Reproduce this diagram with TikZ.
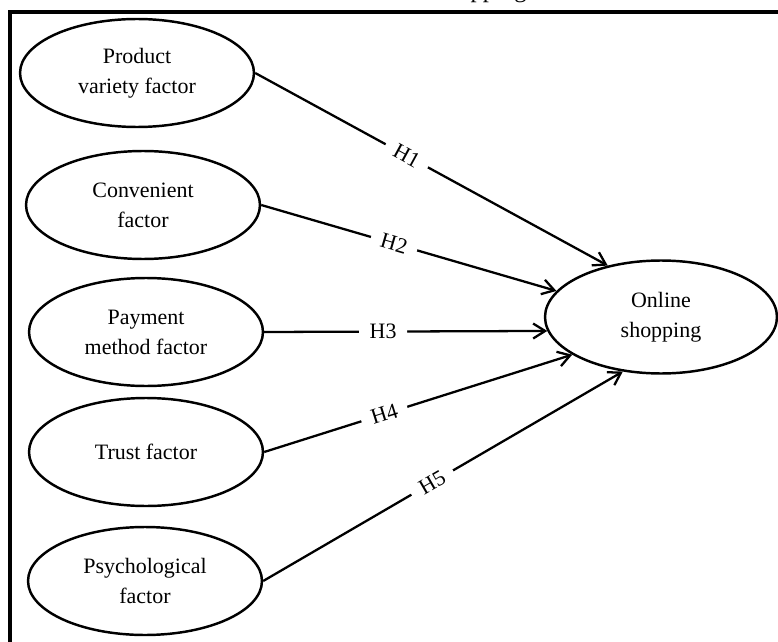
\documentclass[tikz,border=0pt]{standalone}
\usepackage{fontspec}
\setmainfont{Liberation Serif}
\usepackage{tikz}
\usetikzlibrary{arrows.meta,shapes.geometric}

\begin{document}
\begin{tikzpicture}[x=0.02cm,y=-0.02cm,>={Straight Barb[length=2.4mm,width=3mm]},
   font=\fontsize{12.5}{17}\selectfont,
   ov/.style={draw,ellipse,line width=1.4pt,inner sep=0pt,align=center,
     minimum width=4.68cm,minimum height=2.16cm},
   hyp/.style={sloped,fill=white,inner xsep=6pt,inner ysep=1pt}]
  \useasboundingbox (0,0) rectangle (778,642);
  \begin{scope}
    \clip (0,0) rectangle (778,642);
    \node[font=\fontsize{14}{16}\selectfont,anchor=base east,inner sep=0pt] (ttl) at (527,-2) {shopping};
  \end{scope}
  \draw[line width=2.2pt] (778,12) -- (10,12) -- (10,642);
  \node[ov] (pv) at (137,73)  {Product\\variety factor};
  \node[ov] (cv) at (143,205) {Convenient\\factor};
  \node[ov] (pm) at (146,332) {Payment\\method factor};
  \node[ov] (tr) at (146,452) {Trust factor};
  \node[ov] (ps) at (145,581) {Psychological\\factor};
  \node[ov,minimum width=4.64cm,minimum height=2.26cm] (os) at (661,317) {Online\\shopping};
  \draw[->,line width=1.3pt] (pv.east) -- node[hyp,pos=.43] {H1} (os.136);
  \draw[->,line width=1.3pt] (cv.east) -- node[hyp,pos=.45] {H2} (os.166);
  \draw[->,line width=1.3pt] (pm.east) -- node[hyp,pos=.42] {H3} (os.187);
  \draw[->,line width=1.3pt] (tr.east) -- node[hyp,pos=.39] {H4} (os.203);
  \draw[->,line width=1.3pt] (ps.east) -- node[hyp,pos=.47] {H5} (os.235);
\end{tikzpicture}
\end{document}
